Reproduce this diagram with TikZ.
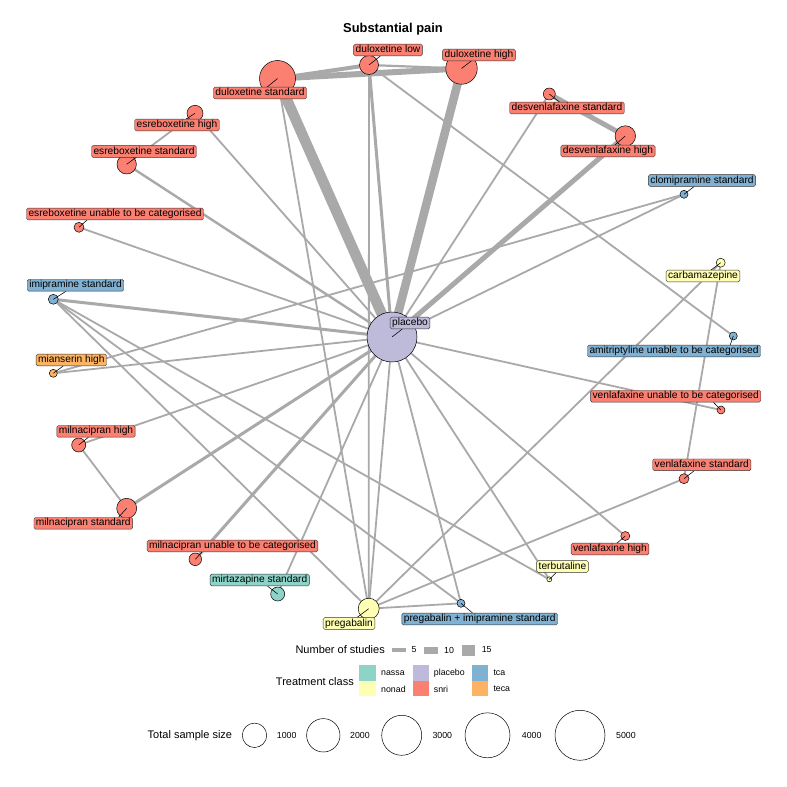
\documentclass[tikz,border=0pt]{standalone}
\usepackage{fontspec}
\setmainfont{Liberation Sans}
\definecolor{edgegray}{RGB}{169,169,169}
\definecolor{csnri}{HTML}{FB8072}
\definecolor{ctca}{HTML}{80B1D3}
\definecolor{cteca}{HTML}{FDB462}
\definecolor{cnonad}{HTML}{FFFFB3}
\definecolor{cnassa}{HTML}{8DD3C7}
\definecolor{cplacebo}{HTML}{BEBADA}
\pgfdeclarelayer{edges}
\pgfdeclarelayer{front}
\pgfsetlayers{edges,main,front}
\tikzset{
  edge/.style={draw=edgegray, line width=#1},
  edge/.default=1.8pt,
  pt/.style={circle, draw=black, line width=0.5pt, inner sep=0pt, minimum size=#1},
  lab/.style={draw=black!80, rounded corners=1.5pt, line width=0.4pt, inner xsep=2pt, inner ysep=1.1pt,
              text height=7.4pt, text depth=2.1pt, font=\fontsize{10.2}{12}\selectfont},
  leader/.style={draw=black, line width=0.55pt},
  snri/.style={fill=csnri}, tca/.style={fill=ctca}, teca/.style={fill=cteca},
  nonad/.style={fill=cnonad}, nassa/.style={fill=cnassa}, plac/.style={fill=cplacebo},
  legtxt/.style={font=\fontsize{8.8}{10}\selectfont, inner sep=0pt},
  legtitle/.style={font=\fontsize{11}{13}\selectfont, inner sep=0pt},
  sizekey/.style={circle, draw=black, line width=0.5pt, inner sep=0pt, minimum size=#1},
}
\begin{document}
\begin{tikzpicture}[x=1pt,y=-1pt]
\useasboundingbox (0,0) rectangle (787,787);
\node[font=\bfseries\fontsize{12.9}{15}\selectfont] (title) at (393,29) {Substantial pain};
% ---- treatment points
\node[pt=50pt, plac] (plc) at (392,337) {};
\node[pt=36pt, snri] (dstd) at (277.5,78.5) {};
\node[pt=19pt, snri] (dlow) at (369,65) {};
\node[pt=31.5pt, snri] (dhigh) at (461.5,68.5) {};
\node[pt=12pt, snri] (dvstd) at (549.3,94) {};
\node[pt=20.5pt, snri] (dvhigh) at (625.3,136) {};
\node[pt=8pt, tca] (clo) at (684,194.3) {};
\node[pt=9pt, nonad] (carb) at (720.7,262.7) {};
\node[pt=16pt, snri] (ehigh) at (195,113.3) {};
\node[pt=19.4pt, snri] (estd) at (126.7,164.3) {};
\node[pt=10pt, snri] (eun) at (79,227.3) {};
\node[pt=10pt, tca] (imi) at (53.3,299.3) {};
\node[pt=8pt, teca] (mia) at (53.3,373.3) {};
\node[pt=14pt, snri] (mhigh) at (78.7,445) {};
\node[pt=20pt, snri] (mstd) at (126.7,508.3) {};
\node[pt=8pt, tca] (ami) at (733.3,336) {};
\node[pt=8pt, snri] (vun) at (721,410) {};
\node[pt=10pt, snri] (vstd) at (684,478.7) {};
\node[pt=9pt, snri] (vhigh) at (625.3,536) {};
\node[pt=12.6pt, snri] (mun) at (195.3,559.3) {};
\node[pt=14pt, nassa] (mir) at (277.7,594) {};
\node[pt=21pt, nonad] (pre) at (368.7,608.7) {};
\node[pt=8pt, tca] (prei) at (461,603.3) {};
\node[pt=5pt, nonad] (ter) at (549.3,579.3) {};
% ---- edges
\begin{pgfonlayer}{edges}
\fill[white] (0,0) rectangle (787,787);
\draw[edge=10.5pt] (plc.center) -- (dstd.center);
\draw[edge=8.5pt] (plc.center) -- (dhigh.center);
\draw[edge=3pt] (plc.center) -- (dlow.center);
\draw[edge] (plc.center) -- (dvstd.center);
\draw[edge=5pt] (plc.center) -- (dvhigh.center);
\draw[edge] (plc.center) -- (clo.center);
\draw[edge] (plc.center) -- (vun.center);
\draw[edge] (plc.center) -- (vhigh.center);
\draw[edge] (plc.center) -- (ter.center);
\draw[edge] (plc.center) -- (prei.center);
\draw[edge] (plc.center) -- (pre.center);
\draw[edge] (plc.center) -- (mir.center);
\draw[edge=3pt] (plc.center) -- (mun.center);
\draw[edge=3pt] (plc.center) -- (mstd.center);
\draw[edge] (plc.center) -- (mhigh.center);
\draw[edge] (plc.center) -- (mia.center);
\draw[edge=3pt] (plc.center) -- (imi.center);
\draw[edge] (plc.center) -- (eun.center);
\draw[edge=2.4pt] (plc.center) -- (estd.center);
\draw[edge] (plc.center) -- (ehigh.center);
\draw[edge=4pt] (dstd.center) -- (dlow.center);
\draw[edge=6pt] (dstd.center) -- (dhigh.center);
\draw[edge=2.2pt] (dlow.center) -- (dhigh.center);
\draw[edge] (dstd.center) -- (pre.center);
\draw[edge] (dlow.center) -- (pre.center);
\draw[edge] (dlow.center) -- (ami.center);
\draw[edge=5pt] (dvstd.center) -- (dvhigh.center);
\draw[edge] (ehigh.center) -- (estd.center);
\draw[edge] (mhigh.center) -- (mstd.center);
\draw[edge] (imi.center) -- (pre.center);
\draw[edge] (imi.center) -- (prei.center);
\draw[edge] (imi.center) -- (ter.center);
\draw[edge] (mia.center) -- (clo.center);
\draw[edge] (carb.center) -- (vstd.center);
\draw[edge] (carb.center) -- (pre.center);
\draw[edge] (pre.center) -- (vstd.center);
\draw[edge] (pre.center) -- (prei.center);
\end{pgfonlayer}
% ---- labels
\begin{pgfonlayer}{front}
\node[lab, plac] (Lplc) at (410,323) {placebo};
\node[lab, snri] (Ldstd) at (260,93) {duloxetine standard};
\node[lab, snri] (Ldlow) at (388,50) {duloxetine low};
\node[lab, snri] (Ldhigh) at (479,55) {duloxetine high};
\node[lab, snri] (Ldvstd) at (567,108) {desvenlafaxine standard};
\node[lab, snri] (Ldvhigh) at (608,151) {desvenlafaxine high};
\node[lab, tca] (Lclo) at (702,180.5) {clomipramine standard};
\node[lab, nonad] (Lcarb) at (703,276) {carbamazepine};
\node[lab, snri] (Lehigh) at (177,125) {esreboxetine high};
\node[lab, snri] (Lestd) at (144,151.5) {esreboxetine standard};
\node[lab, snri] (Leun) at (115,214) {esreboxetine unable to be categorised};
\node[lab, tca] (Limi) at (75.5,285.3) {imipramine standard};
\node[lab, teca] (Lmia) at (71.3,360) {mianserin high};
\node[lab, snri] (Lmhigh) at (96,431.3) {milnacipran high};
\node[lab, snri] (Lmstd) at (83.3,523.3) {milnacipran standard};
\node[lab, tca] (Lami) at (674,351) {amitriptyline unable to be categorised};
\node[lab, snri] (Lvun) at (675.7,396.3) {venlafaxine unable to be categorised};
\node[lab, snri] (Lvstd) at (701.8,464.8) {venlafaxine standard};
\node[lab, snri] (Lvhigh) at (610,549) {venlafaxine high};
\node[lab, snri] (Lmun) at (232.5,546) {milnacipran unable to be categorised};
\node[lab, nassa] (Lmir) at (259.7,580) {mirtazapine standard};
\node[lab, nonad] (Lpre) at (349,623.5) {pregabalin};
\node[lab, tca] (Lprei) at (479.7,619) {pregabalin + imipramine standard};
\node[lab, nonad] (Lter) at (562.5,566.5) {terbutaline};
\end{pgfonlayer}
% ---- leaders
\foreach \p in {plc,dstd,dlow,dhigh,dvstd,dvhigh,clo,carb,ehigh,estd,imi,mia,mhigh,vstd,vhigh,mir,pre,prei,ter}{
  \draw[leader] (\p.center) -- (L\p);
}
\draw[leader] (ami.center) -- (Lami.south -| 726,0);
\draw[leader] (vun.center) -- (Lvun.south -| 713.5,0);
\draw[leader] (mun.center) -- (Lmun.south -| 202,0);
\draw[leader] (eun.center) -- (Leun.south -| 87,0);
\draw[leader] (mstd.center) -- (Lmstd.north -| 118.5,0);
% ---- legend: number of studies
\node[legtitle, anchor=east] (nst) at (385,650) {Number of studies};
\fill[edgegray] (392,648) rectangle (405.7,652);
\node[legtxt] (n5) at (414,650) {5};
\fill[edgegray] (424.3,646.5) rectangle (437.7,653.5);
\node[legtxt] (n10) at (449,650) {10};
\fill[edgegray] (462,644.5) rectangle (475,655.5);
\node[legtxt] (n15) at (486.7,650) {15};
% ---- legend: treatment class
\node[legtitle, anchor=east] (tcl) at (354,681.5) {Treatment class};
\fill[cnassa] (359.3,665) rectangle (375.7,680.7);
\fill[cnonad] (359.3,680.7) rectangle (375.7,696.3);
\fill[cplacebo] (412.7,665) rectangle (429,680.7);
\fill[csnri] (412.7,680.7) rectangle (429,696.3);
\fill[ctca] (472.3,665) rectangle (488.3,680.7);
\fill[cteca] (472.3,680.7) rectangle (488.3,696.3);
\node[legtxt, anchor=west] (lnassa) at (381,673) {nassa};
\node[legtxt, anchor=west] (lnonad) at (381,689) {nonad};
\node[legtxt, anchor=west] (lplac) at (433.7,673) {placebo};
\node[legtxt, anchor=west] (lsnri) at (433.7,689) {snri};
\node[legtxt, anchor=west] (ltca) at (493.3,673) {tca};
\node[legtxt, anchor=west] (lteca) at (493.3,689) {teca};
% ---- legend: total sample size
\node[legtitle, anchor=east] (tss) at (232.3,735.5) {Total sample size};
\node[sizekey=24.4pt] (s1) at (254.5,735.3) {};
\node[legtxt, anchor=west] (t1) at (276.7,735.3) {1000};
\node[sizekey=33.4pt] (s2) at (323.3,735.3) {};
\node[legtxt, anchor=west] (t2) at (350,735.3) {2000};
\node[sizekey=40pt] (s3) at (401.7,735.3) {};
\node[legtxt, anchor=west] (t3) at (432.3,735.3) {3000};
\node[sizekey=45pt] (s4) at (487.5,735.3) {};
\node[legtxt, anchor=west] (t4) at (521.7,735.3) {4000};
\node[sizekey=50pt] (s5) at (580,735.3) {};
\node[legtxt, anchor=west] (t5) at (616,735.3) {5000};
\end{tikzpicture}
\end{document}
